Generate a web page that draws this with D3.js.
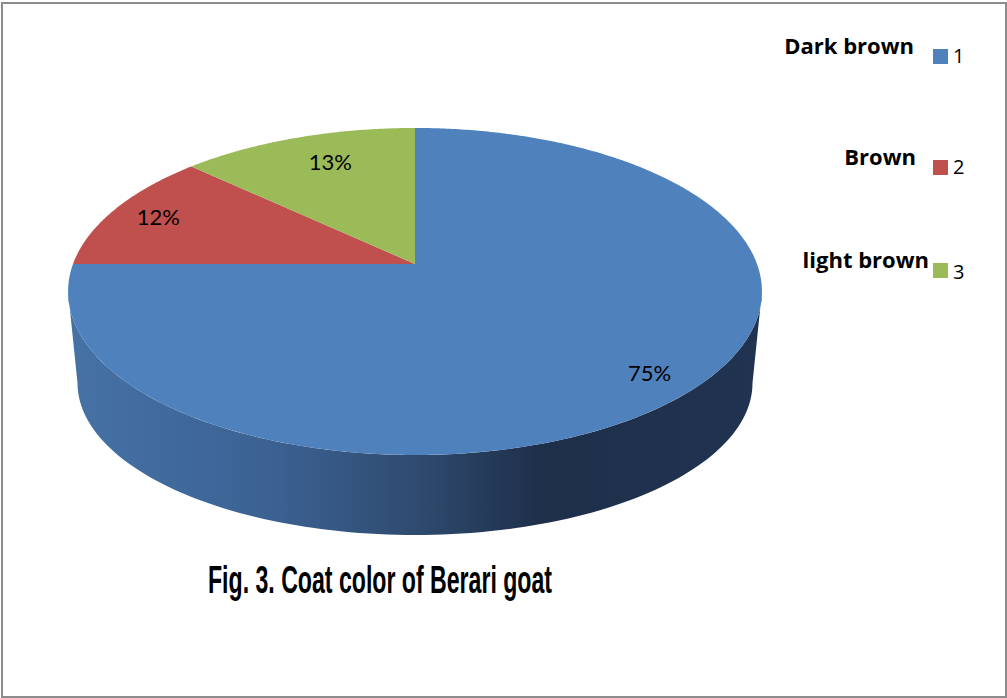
<!DOCTYPE html>
<html>
<head>
<meta charset="utf-8">
<script src="https://cdn.jsdelivr.net/npm/d3@7/dist/d3.min.js"></script>
<style>
  html, body { margin: 0; padding: 0; background: #fff; }
  svg { display: block; }
</style>
</head>
<body>
<svg id="chart" width="1007" height="698"></svg>
<script>
// ---- data ----
const categories = ["Dark brown", "Brown", "light brown"];
const values = [75, 12, 13];
const legendNumbers = ["1", "2", "3"];
const colors = ["#4f81bd", "#c0504d", "#9bbb59"];
const titleText = "Fig. 3. Coat color of Berari goat";

const svg = d3.select("#chart");

// frame
svg.append("rect")
  .attr("x", 2).attr("y", 3).attr("width", 1004).attr("height", 694)
  .attr("fill", "none").attr("stroke", "#8c8c8c").attr("stroke-width", 2);

// perspective projections (top and bottom faces of the 3D pie)
const k = 0.168;
const topFace = { cx: 415, cy: 264, A: 342, B: 158.9 };
const botFace = { cx: 415, cy: 357.5, A: 332.7, B: 147.7 };
function proj(face, r, theta) {
  const x = r * Math.sin(theta), z = -r * Math.cos(theta);
  const w = 1 - k * z;
  return [face.cx + face.A * x / w, face.cy + face.B * z / w];
}

const pie = d3.pie().sort(null).value(d => d).startAngle(0).endAngle(2 * Math.PI);
const arcs = pie(values);

// gradient for side
const defs = svg.append("defs");
const grad = defs.append("linearGradient").attr("id", "sideGrad")
  .attr("gradientUnits", "userSpaceOnUse")
  .attr("x1", 68).attr("y1", 0).attr("x2", 762).attr("y2", 0);
[[0, "#4672a6"], [0.3, "#3b6192"], [0.5, "#2f4b70"], [0.68, "#1e2f4a"], [1, "#203350"]]
  .forEach(([o, c]) => grad.append("stop").attr("offset", o).attr("stop-color", c));

// side wall (front visible part)
const thL = Math.PI + Math.acos(k), thR = Math.PI - Math.acos(k);
const N = 120;
const sidePts = [];
for (let i = 0; i <= N; i++) sidePts.push(proj(topFace, 1, thR + (thL - thR) * i / N));
for (let i = 0; i <= N; i++) sidePts.push(proj(botFace, 1, thL - (thL - thR) * i / N));
svg.append("path")
  .attr("d", d3.line()(sidePts) + "Z")
  .attr("fill", "url(#sideGrad)");

// top face slices
function slicePath(a) {
  const pts = [proj(topFace, 0, 0)];
  const n = Math.max(4, Math.ceil((a.endAngle - a.startAngle) / 0.01));
  for (let i = 0; i <= n; i++) pts.push(proj(topFace, 1, a.startAngle + (a.endAngle - a.startAngle) * i / n));
  return d3.line()(pts) + "Z";
}
svg.append("g").selectAll("path").data(arcs).join("path")
  .attr("d", slicePath)
  .attr("fill", (d, i) => colors[i]);

// percentage labels
const total = d3.sum(values);
const labelR = [0.87, 0.85, 0.78];
function labelPos(d, i) {
  const p = proj(topFace, labelR[i], (d.startAngle + d.endAngle) / 2);
  return i === 2 ? [p[0] + 10, p[1]] : p;
}
svg.append("g").selectAll("text").data(arcs).join("text")
  .attr("x", (d, i) => labelPos(d, i)[0])
  .attr("y", (d, i) => labelPos(d, i)[1])
  .attr("dy", "0.36em")
  .attr("text-anchor", "middle")
  .attr("font-family", "Lato, 'Open Sans', sans-serif")
  .attr("font-size", 22)
  .attr("fill", "#000")
  .text(d => Math.round(d.value / total * 100) + "%");

// legend
const legendY = [54, 165, 268];
const legendLabelX = [914, 916, 929];
const lg = svg.append("g");
categories.forEach((c, i) => {
  lg.append("text")
    .attr("x", legendLabelX[i]).attr("y", legendY[i])
    .attr("text-anchor", "end")
    .attr("font-family", "'Open Sans', Lato, sans-serif")
    .attr("font-weight", "bold")
    .attr("font-size", 22)
    .attr("fill", "#000")
    .text(c);
  lg.append("rect")
    .attr("x", 933).attr("y", legendY[i] - 5)
    .attr("width", 15).attr("height", 15)
    .attr("fill", colors[i]);
  lg.append("text")
    .attr("x", 953).attr("y", legendY[i] + 9 + (i === 2 ? 2 : 0))
    .attr("font-family", "'Open Sans', Lato, sans-serif")
    .attr("font-size", 20)
    .attr("fill", "#000")
    .text(legendNumbers[i]);
});

// title
svg.append("text")
  .attr("x", 208).attr("y", 593)
  .attr("font-family", "'Liberation Sans Narrow', 'Liberation Sans', Arial, sans-serif")
  .attr("font-weight", "bold")
  .attr("font-size", 38)
  .attr("textLength", 344)
  .attr("lengthAdjust", "spacingAndGlyphs")
  .attr("fill", "#000")
  .text(titleText);
</script>
</body>
</html>
